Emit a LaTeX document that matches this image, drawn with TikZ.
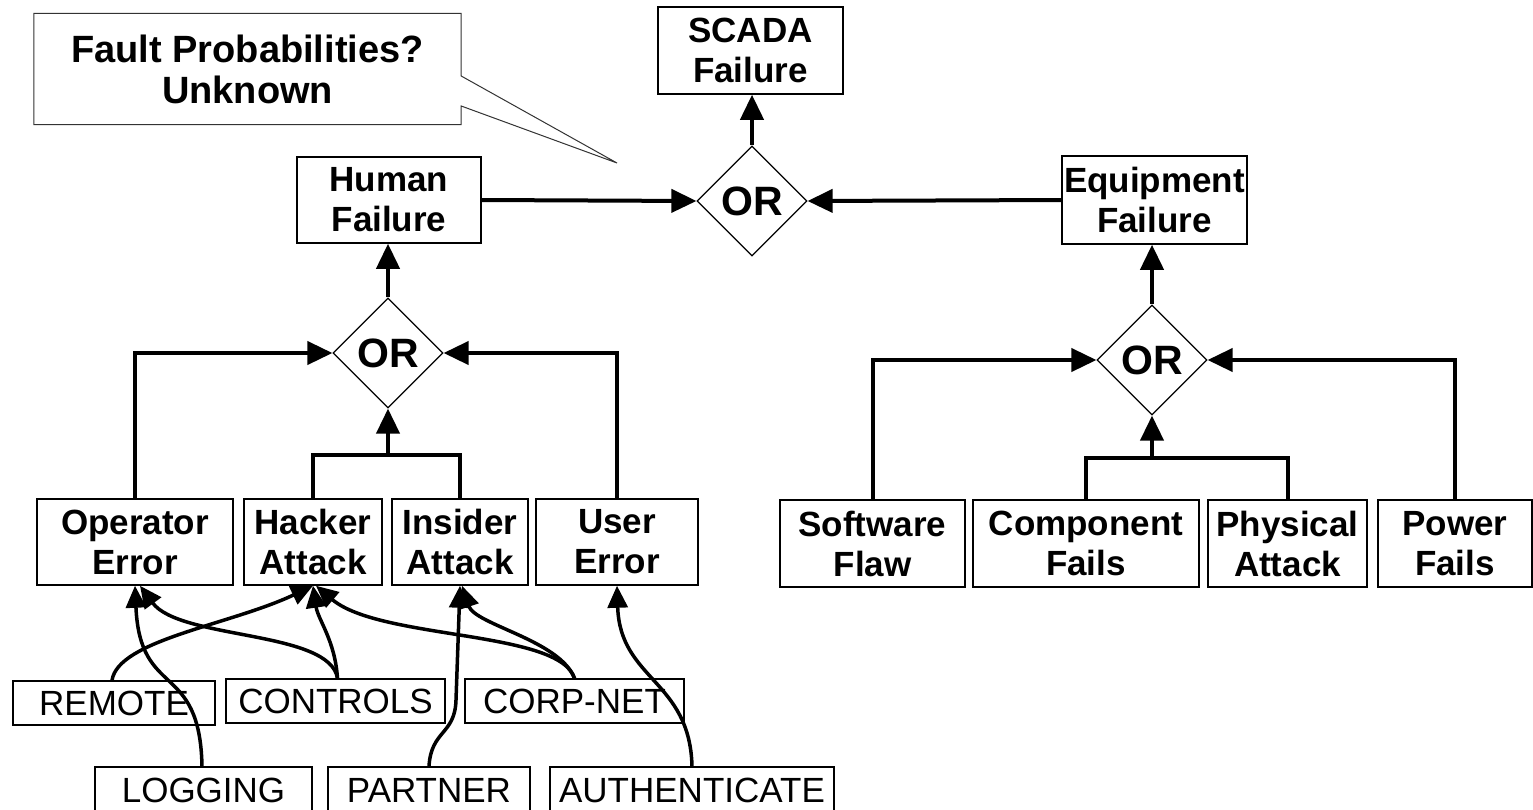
\documentclass[tikz,border=0pt]{standalone}
\usepackage{fontspec}
\setmainfont{Liberation Sans}
\usetikzlibrary{positioning, calc, arrows.meta, shapes.geometric}
\tikzset{
    gatebox/.style={rectangle, draw, line width=1.5pt, fill=white, align=center, inner sep=0pt, font=\bfseries\fontsize{35}{40}\selectfont},
    srcbox/.style={rectangle, draw, line width=1.2pt, fill=white, inner sep=0pt, minimum height=44pt, font=\fontsize{35}{40}\selectfont},
    orgate/.style={diamond, draw, line width=1.2pt, fill=white, minimum width=110pt, minimum height=110pt, inner sep=0pt, font=\bfseries\fontsize{41}{41}\selectfont},
    arrow/.style={-{Triangle[length=25pt, width=23pt]}, line width=4pt},
    curvearrow/.style={-{Triangle[length=22pt, width=20pt]}, line width=3.5pt},
    link/.style={line width=4pt},
}
\begin{document}
\begin{tikzpicture}[x=1pt, y=-1pt]
                \useasboundingbox[fill=white] (0,0) rectangle (1533,809);
                % Callout
                \node[align=center, inner sep=0pt, minimum width=427pt, minimum height=111pt, font=\bfseries\fontsize{38}{41}\selectfont] (note) at (247.5,69) {Fault Probabilities?\\Unknown};
                \coordinate (tip) at (617,163);
                \draw[line width=1pt, black!80] (note.north west) -- (note.north east) -- ([yshift=-7pt]note.east) -- (tip) -- ([yshift=-37pt]note.east) -- (note.south east) -- (note.south west) -- cycle;
                
                % Top of the tree
                \node[gatebox, minimum width=185pt, minimum height=87pt] (scada) at (750.5,50.5) {SCADA\\Failure};
                \node[orgate] (orTop) at (752,201) {OR};
                \node[gatebox, minimum width=184pt, minimum height=86pt] (human) at (389,200) {Human\\Failure};
                \node[gatebox, minimum width=185pt, minimum height=88pt] (equip) at (1154.5,200) {Equipment\\Failure};
                \node[orgate] (orHuman) at (388,353) {OR};
                \node[orgate] (orEquip) at (1152,360) {OR};
                
                % Human branch
                \node[gatebox, minimum width=196pt, minimum height=86pt] (oper) at (135,542) {Operator\\Error};
                \node[gatebox, minimum width=138pt, minimum height=86pt] (hacker) at (313,542) {Hacker\\Attack};
                \node[gatebox, minimum width=136pt, minimum height=86pt] (insider) at (460,542) {Insider\\Attack};
                \node[gatebox, minimum width=162pt, minimum height=86pt] (user) at (617,542) {User\\Error};
                
                % Equipment branch
                \node[gatebox, minimum width=185pt, minimum height=87pt] (soft) at (872.5,543.5) {Software\\Flaw};
                \node[gatebox, minimum width=226pt, minimum height=87pt] (comp) at (1086,543.5) {Component\\Fails};
                \node[gatebox, minimum width=159pt, minimum height=87pt] (phys) at (1287.5,543.5) {Physical\\Attack};
                \node[gatebox, minimum width=154pt, minimum height=87pt] (power) at (1455,543.5) {Power\\Fails};
                
                % Sources
                \node[srcbox, minimum width=202pt] (remote) at (114,703) {REMOTE};
                \node[srcbox, minimum width=219pt] (controls) at (335.5,701) {CONTROLS};
                \node[srcbox, minimum width=219pt] (corpnet) at (574.5,701) {CORP-NET};
                \node[srcbox, minimum width=217pt, minimum height=46pt] (logging) at (203.5,790) {LOGGING};
                \node[srcbox, minimum width=202pt, minimum height=46pt] (partner) at (429,790) {PARTNER};
                \node[srcbox, minimum width=284pt, minimum height=46pt] (authent) at (692,790) {AUTHENTICATE};
                
                % Gates
                \draw[arrow] (orTop.north) -- (orTop.north |- scada.south);
                \draw[arrow] (human.east) -- (orTop.west);
                \draw[arrow] (equip.west) -- (orTop.east);
                \draw[arrow] (orHuman.north) -- (orHuman.north |- human.south);
                \draw[arrow] (orEquip.north) -- (orEquip.north |- equip.south);
                
                \draw[arrow] (oper.north) |- (orHuman.west);
                \draw[arrow] (user.north) |- (orHuman.east);
                \coordinate (hjoin) at (orHuman |- 0,455);
                \draw[link] (hacker.north) |- (hjoin) -| (insider.north);
                \draw[arrow] (hjoin) -- (orHuman.south);
                
                \draw[arrow] (soft.north) |- (orEquip.west);
                \draw[arrow] (power.north) |- (orEquip.east);
                \coordinate (ejoin) at (orEquip |- 0,458);
                \draw[link] (comp.north) |- (ejoin) -| (phys.north);
                \draw[arrow] (ejoin) -- (orEquip.south);
                
                % Sources to events
                \draw[curvearrow] ([xshift=-2pt]remote.north) .. controls (118,640) and (230,625) .. (hacker.south);
                \draw[curvearrow] ([xshift=2pt]controls.north) .. controls (330,630) and (180,640) .. ([xshift=5pt]oper.south);
                \draw[curvearrow] ([xshift=2pt]controls.north) .. controls (335,640) and (318,620) .. (hacker.south);
                \draw[curvearrow] (corpnet.north) .. controls (560,630) and (380,640) .. ([xshift=3pt]hacker.south);
                \draw[curvearrow] (corpnet.north) .. controls (560,640) and (475,625) .. ([xshift=2pt]insider.south);
                \draw[curvearrow] (partner.north) .. controls (431,730) and (455,735) .. (456,700) -- (insider.south);
                \draw[curvearrow] ([xshift=-1.5pt]logging.north) .. controls (200,660) and (140,700) .. (oper.south);
                \draw[curvearrow] (authent.north) .. controls (690,680) and (620,680) .. (user.south);
            \end{tikzpicture}
\end{document}
